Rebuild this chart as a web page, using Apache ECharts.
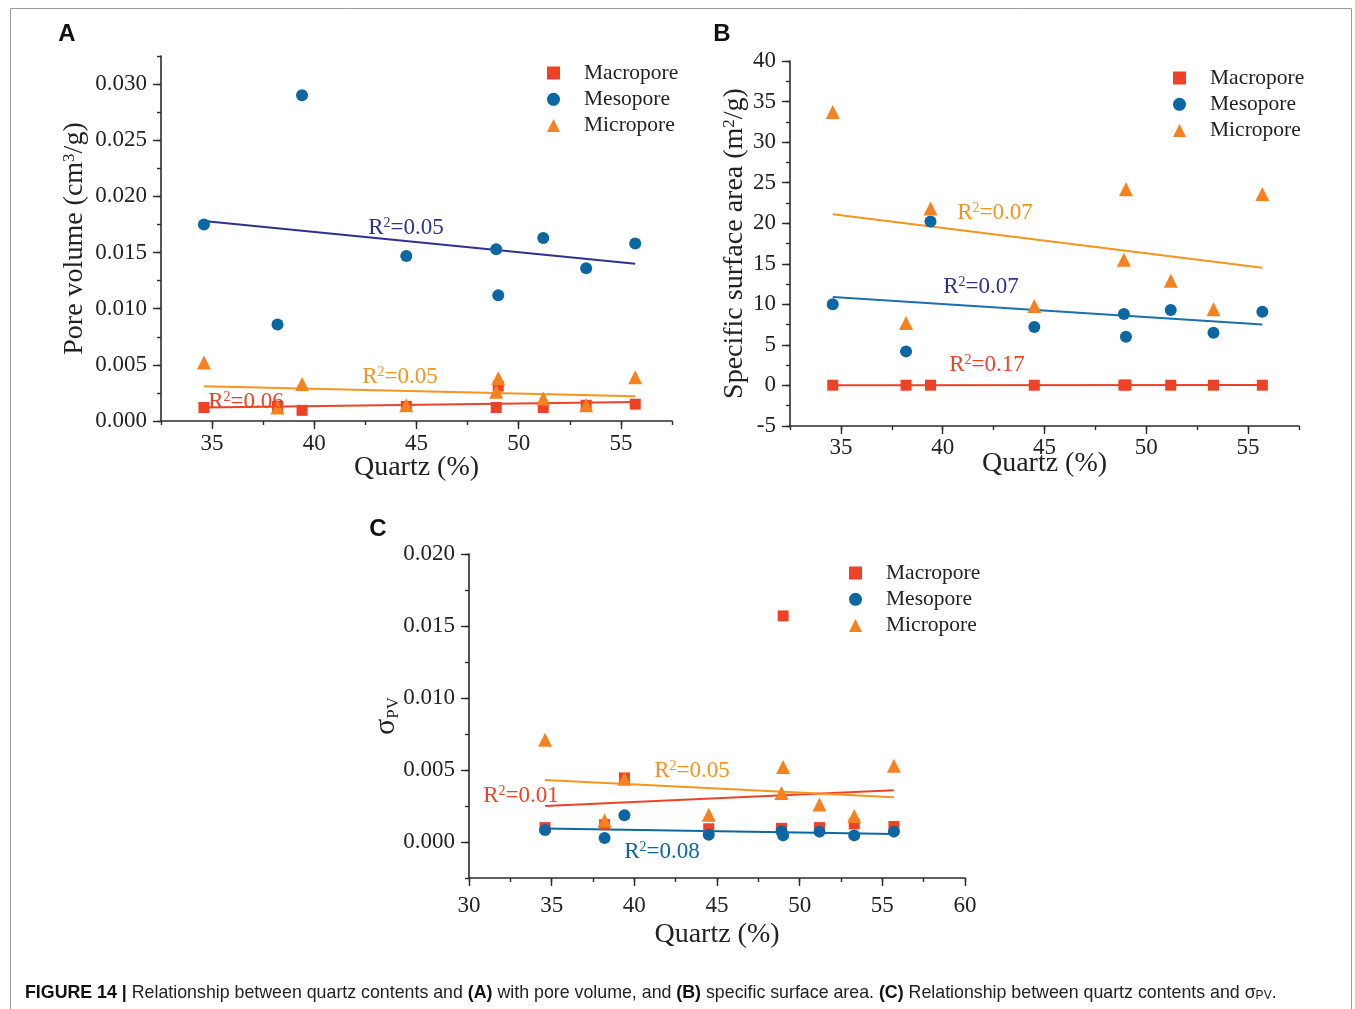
<!DOCTYPE html>
<html>
<head>
<meta charset="utf-8">
<script src="https://cdn.jsdelivr.net/npm/echarts@6/dist/echarts.min.js"></script>
<style>
html,body{margin:0;padding:0;background:#fff;}
#chart{width:1355px;height:1009px;}
</style>
</head>
<body>
<div id="chart"></div>
<script>
// ---- data ----
const seriesNames = ['Macropore', 'Mesopore', 'Micropore'];
const quartz = [34.6, 38.2, 39.4, 44.5, 48.9, 49.0, 51.2, 53.3, 55.7];

// (A) pore volume, cm3/g
const pvMacro = [0.0012, 0.0013, 0.00095, 0.0013, 0.0012, 0.0031, 0.0012, 0.0014, 0.0015];
const pvMeso  = [0.0175, 0.0086, 0.0290, 0.0147, 0.0153, 0.0112, 0.0163, 0.0136, 0.0158];
const pvMicro = [0.0052, 0.0012, 0.0033, 0.0014, 0.0026, 0.0038, 0.0020, 0.0014, 0.0039];

// (B) specific surface area, m2/g
const ssaMacro = [0.03, 0.03, 0.03, 0.03, 0.04, 0.05, 0.03, 0.03, 0.03];
const ssaMeso  = [10.0, 4.2, 20.2, 7.2, 8.8, 6.0, 9.3, 6.5, 9.1];
const ssaMicro = [33.7, 7.7, 21.8, 9.8, 15.5, 24.2, 12.9, 9.4, 23.6];

// (C) sigma PV
const sigMacro = [0.00100, 0.00120, 0.00445, 0.00092, 0.00095, 0.0157, 0.00100, 0.00125, 0.00108];
const sigMeso  = [0.00083, 0.00028, 0.00185, 0.00051, 0.00074, 0.00046, 0.00072, 0.00046, 0.00072];
const sigMicro = [0.0071, 0.0015, 0.0044, 0.0019, 0.0034, 0.0052, 0.0026, 0.0018, 0.0053];

// fitted trend lines (end points)
const trendX = [34.6, 55.7];
const pvTrendMacro = [0.0012, 0.0017];
const pvTrendMeso  = [0.0178, 0.0140];
const pvTrendMicro = [0.0031, 0.0022];
const ssaTrendMacro = [0.02, 0.05];
const ssaTrendMeso  = [10.9, 7.5];
const ssaTrendMicro = [21.1, 14.5];
const sigTrendMacro = [0.0025, 0.0036];
const sigTrendMeso  = [0.00093, 0.00056];
const sigTrendMicro = [0.0043, 0.0031];

// R² values
const r2A = ['0.06', '0.05', '0.05']; // macro, meso, micro
const r2B = ['0.17', '0.07', '0.07'];
const r2C = ['0.01', '0.08', '0.05'];

// tick labels
const xTicksAB = [35, 40, 45, 50, 55];
const xTicksC = [30, 35, 40, 45, 50, 55, 60];
const yTicksA = [0, 0.005, 0.010, 0.015, 0.020, 0.025, 0.030];
const yTicksB = [-5, 0, 5, 10, 15, 20, 25, 30, 35, 40];
const yTicksC = [0, 0.005, 0.010, 0.015, 0.020];

// ---- styles ----
const SERIF = '"Liberation Serif", "Times New Roman", serif';
const SANS = '"Liberation Sans", Arial, sans-serif';
const C_MACRO = '#EE4227';
const C_MESO = '#0B67A2';
const C_MICRO = '#F5821F';
const C_NAVY = '#2E3192';
const AX = '#2b2b2b';

function pairs(xs, ys) { return xs.map((x, i) => [x, ys[i]]); }

const nameRich = {
  sup: { fontFamily: SERIF, fontSize: 17, color: '#222', verticalAlign: 'top', lineHeight: 17 },
  s: { fontFamily: SERIF, fontSize: 30, color: '#222', lineHeight: 32 },
  p: { fontFamily: SERIF, fontSize: 17, color: '#222', lineHeight: 17, verticalAlign: 'bottom' }
};

function axisPair(dim, grid, min, max, step, majors, fmt, name, nameGap, labelMargin) {
  const base = {
    type: 'value', gridIndex: grid, min: min, max: max,
    splitLine: { show: false },
    position: dim === 'x' ? 'bottom' : 'left'
  };
  const dataAxis = Object.assign({}, base, {
    interval: step,
    axisLine: { show: true, onZero: false, lineStyle: { color: AX, width: 1.6 } },
    axisTick: { show: true, inside: false, length: 4, lineStyle: { color: AX, width: 1.4 } },
    axisLabel: {
      customValues: majors, formatter: fmt, color: '#222', fontFamily: SERIF, fontSize: 23,
      margin: labelMargin
    },
    name: name, nameLocation: 'middle', nameGap: nameGap, nameMoveOverlap: false,
    nameTextStyle: { color: '#222', fontFamily: SERIF, fontSize: 28, rich: nameRich }
  });
  const overlay = Object.assign({}, base, {
    axisLine: { show: false, onZero: false },
    axisTick: { show: true, inside: false, length: 8, customValues: majors, lineStyle: { color: AX, width: 1.4 } },
    axisLabel: { show: false }
  });
  return [dataAxis, overlay];
}

const fmt3 = v => Number(v).toFixed(3);
const fmtInt = v => String(Math.round(v));

const xAxes = [
  ...axisPair('x', 0, 32.5, 57.5, 2.5, xTicksAB, fmtInt, 'Quartz (%)', 33, 11),
  ...axisPair('x', 1, 32.5, 57.5, 2.5, xTicksAB, fmtInt, 'Quartz (%)', 24, 10),
  ...axisPair('x', 2, 30, 60, 2.5, xTicksC, fmtInt, 'Quartz (%)', 43, 16)
];
const yAxes = [
  ...axisPair('y', 0, 0, 0.0325, 0.0025, yTicksA, fmt3, 'Pore volume (cm{sup|3}/g)', 72, 14),
  ...axisPair('y', 1, -5, 40, 2.5, yTicksB, fmtInt, 'Specific surface area (m{sup|2}/g)', 41, 14),
  ...axisPair('y', 2, -0.0025, 0.02, 0.0025, yTicksC, fmt3, '{s|σ}{p|PV}', 67, 14)
];

function panelSeries(grid, macro, meso, micro, tMacro, tMeso, tMicro, mesoLineColor) {
  const xi = grid * 2, yi = grid * 2;
  const sc = (name, ys, sym, size, color) => ({
    type: 'scatter', name: name, xAxisIndex: xi, yAxisIndex: yi,
    data: pairs(quartz, ys), symbol: sym, symbolSize: size,
    itemStyle: { color: color, opacity: 1 }, z: 4, emphasis: { disabled: true }
  });
  const ln = (ys, color) => ({
    type: 'line', xAxisIndex: xi, yAxisIndex: yi, data: pairs(trendX, ys),
    symbol: 'none', lineStyle: { color: color, width: 2 }, z: 3, silent: true, animation: false
  });
  return [
    sc('Macropore', macro, 'rect', 11, C_MACRO),
    sc('Mesopore', meso, 'circle', 12, C_MESO),
    sc('Micropore', micro, 'triangle', 14, C_MICRO),
    ln(tMacro, C_MACRO), ln(tMeso, mesoLineColor), ln(tMicro, '#F7941D')
  ];
}

function legendAt(left, top) {
  return {
    data: seriesNames, orient: 'vertical', left: left, top: top,
    itemWidth: 13, itemHeight: 13, itemGap: 4.3, padding: 0,
    textStyle: { fontFamily: SERIF, fontSize: 21.5, color: '#222', padding: [0, 0, 0, 19] },
    selectedMode: false
  };
}

function r2Text(x, y, val, color) {
  return {
    type: 'text', x: x, y: y, z: 100,
    style: {
      text: '{n|R}{sup|2}{n|=' + val + '}', fill: color, font: '23px ' + SERIF,
      textAlign: 'center', textVerticalAlign: 'middle', align: 'center', verticalAlign: 'middle',
      rich: {
        n: { fontFamily: SERIF, fontSize: 23, lineHeight: 24, fill: color, color: color },
        sup: { fontFamily: SERIF, fontSize: 14, lineHeight: 14, verticalAlign: 'top', fill: color, color: color }
      }
    }
  };
}
function letter(x, y, t) {
  return { type: 'text', x: x, y: y, z: 100,
    style: { text: t, fill: '#111', font: 'bold 24px ' + SANS, textAlign: 'center', textVerticalAlign: 'middle', align: 'center', verticalAlign: 'middle' } };
}

const option = {
  animation: false,
  backgroundColor: '#fff',
  grid: [
    { left: 161, top: 56, width: 511, height: 365, containLabel: false, outerBoundsMode: 'none' },
    { left: 790, top: 61, width: 509, height: 365, containLabel: false, outerBoundsMode: 'none' },
    { left: 469, top: 554, width: 496, height: 324, containLabel: false, outerBoundsMode: 'none' }
  ],
  xAxis: xAxes,
  yAxis: yAxes,
  legend: [legendAt(547, 62), legendAt(1173, 67), legendAt(849, 562)],
  series: [
    ...panelSeries(0, pvMacro, pvMeso, pvMicro, pvTrendMacro, pvTrendMeso, pvTrendMicro, C_NAVY),
    ...panelSeries(1, ssaMacro, ssaMeso, ssaMicro, ssaTrendMacro, ssaTrendMeso, ssaTrendMicro, '#1A6FAE'),
    ...panelSeries(2, sigMacro, sigMeso, sigMicro, sigTrendMacro, sigTrendMeso, sigTrendMicro, '#0B67A2')
  ],
  graphic: [
    { type: 'rect', shape: { x: 10.5, y: 8.5, width: 1341, height: 1020 }, style: { fill: 'none', stroke: '#9a9a9a', lineWidth: 1 }, z: 0, silent: true },
    letter(67, 34, 'A'), letter(722, 34, 'B'), letter(378, 529, 'C'),
    r2Text(406, 228, r2A[1], C_NAVY),
    r2Text(400, 377, r2A[2], '#F7941D'),
    r2Text(246, 402, r2A[0], C_MACRO),
    r2Text(995, 213, r2B[2], '#F7941D'),
    r2Text(981, 287, r2B[1], C_NAVY),
    r2Text(987, 365, r2B[0], C_MACRO),
    r2Text(692, 771, r2C[2], '#F7941D'),
    r2Text(521, 796, r2C[0], C_MACRO),
    r2Text(662, 852, r2C[1], '#0B67A2'),
    {
      type: 'text', x: 25, y: 993, z: 100,
      style: {
        text: '{b|FIGURE 14 |} Relationship between quartz contents and {b|(A)} with pore volume, and {b|(B)} specific surface area. {b|(C)} Relationship between quartz contents and σ{s|PV}.',
        font: '17.8px ' + SANS, fill: '#222', textVerticalAlign: 'middle', verticalAlign: 'middle',
        rich: {
          b: { fontFamily: SANS, fontSize: 17.8, fontWeight: 'bold', fill: '#111', color: '#111' },
          s: { fontFamily: SANS, fontSize: 12, lineHeight: 12, fill: '#222', color: '#222', verticalAlign: 'bottom' }
        }
      }
    }
  ]
};

const chart = echarts.init(document.getElementById('chart'), null, { renderer: 'canvas' });
chart.setOption(option);
</script>
</body>
</html>
